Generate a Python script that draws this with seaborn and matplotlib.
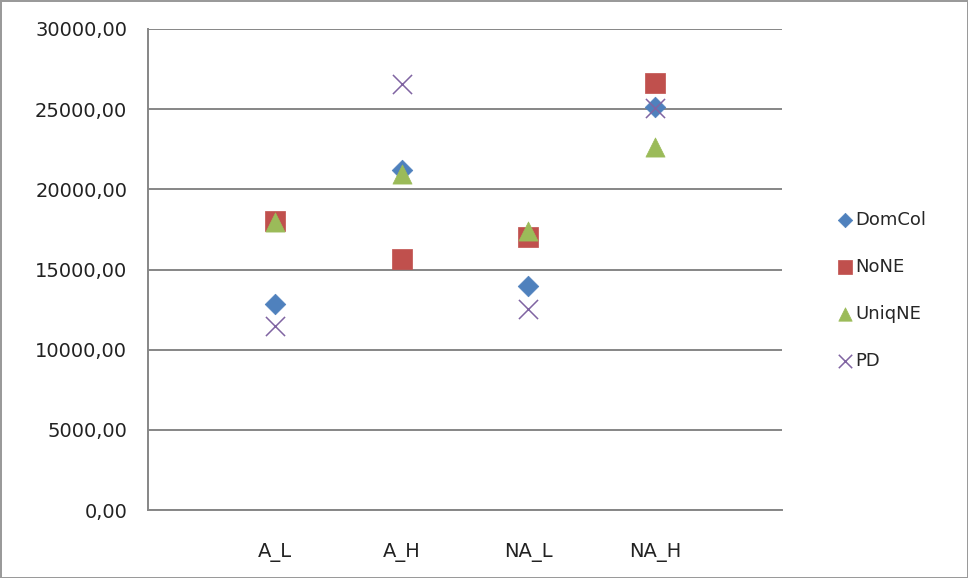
import pandas as pd
import matplotlib
matplotlib.use('Agg')
import matplotlib.pyplot as plt
import seaborn as sns

categories = ['A_L', 'A_H', 'NA_L', 'NA_H']
domcol = [12850, 21200, 13950, 25150]
none_ = [18030, 15650, 17050, 26650]
uniqne = [17950, 20980, 17400, 22650]
pd_vals = [11450, 26600, 12550, 25100]

series_names = ['DomCol', 'NoNE', 'UniqNE', 'PD']
series_values = [domcol, none_, uniqne, pd_vals]
colors = {'DomCol': '#4F81BD', 'NoNE': '#C0504D', 'UniqNE': '#9BBB59', 'PD': '#8064A2'}
markers = {'DomCol': 'D', 'NoNE': 's', 'UniqNE': '^', 'PD': 'x'}
sizes = {'DomCol': 110, 'NoNE': 190, 'UniqNE': 190, 'PD': 190}

rows = []
for name, vals in zip(series_names, series_values):
    for i, c in enumerate(categories):
        rows.append({'series': name, 'cat': c, 'pos': i + 1, 'value': vals[i]})
df = pd.DataFrame(rows)

sns.set_style('white')
plt.rcParams['font.family'] = ['DejaVu Sans']

fig = plt.figure(figsize=(9.68, 5.78), dpi=100)
ax = fig.add_axes([148 / 968, 1 - 510 / 578, (782 - 148) / 968, (510 - 29) / 578])

for name in series_names:
    sub = df[df['series'] == name]
    if markers[name] == 'x':
        sns.scatterplot(data=sub, x='pos', y='value', ax=ax, color=colors[name],
                        marker='x', s=sizes[name], linewidth=1.1, label=name)
    else:
        sns.scatterplot(data=sub, x='pos', y='value', ax=ax, color=colors[name],
                        marker=markers[name], s=sizes[name], edgecolor=colors[name],
                        linewidth=0.5, label=name)

ax.set_xlim(0, 5)
ax.set_ylim(0, 30000)
ax.set_xticks(range(0, 6))
ax.set_xticklabels([''] + categories + [''], fontsize=14)
ax.set_yticks(range(0, 30001, 5000))
ax.set_yticklabels([f'{v},00' for v in range(0, 30001, 5000)], fontsize=14)
ax.set_xlabel('')
ax.set_ylabel('')

ax.grid(axis='y', color='#868686', linewidth=1.4)
ax.set_axisbelow(True)
for side in ['top', 'right']:
    ax.spines[side].set_visible(False)
for side in ['left', 'bottom']:
    ax.spines[side].set_color('#868686')
    ax.spines[side].set_linewidth(1.4)
ax.tick_params(axis='both', which='major', direction='out', length=6, width=1.2,
               color='#868686', labelcolor='#222222')
ax.tick_params(axis='x', pad=18)
ax.tick_params(axis='y', pad=9)

ax.legend(loc='center left', bbox_to_anchor=(1.075, 0.457), frameon=False,
          fontsize=13, handletextpad=0.15, labelspacing=1.6, handlelength=0.9,
          markerscale=0.7, borderaxespad=0)

fig.patch.set_edgecolor('#9a9a9a')
fig.patch.set_linewidth(2)

fig.savefig('out.png', dpi=100, edgecolor=fig.get_edgecolor())
